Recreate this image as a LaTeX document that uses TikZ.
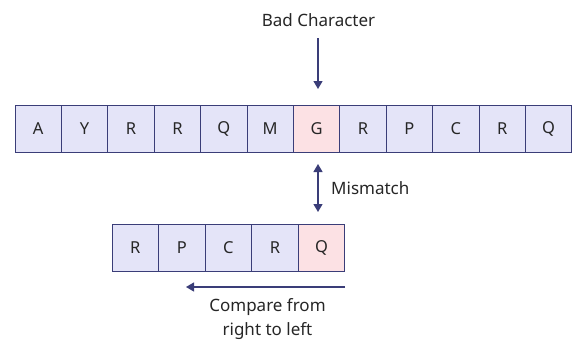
\documentclass[tikz,border=0pt]{standalone}
\usepackage{fontspec}
\setmainfont{Noto Sans}
\usetikzlibrary{arrows.meta}
\definecolor{navy}{HTML}{3A3D78}
\definecolor{cellfill}{HTML}{E4E4F8}
\definecolor{hitfill}{HTML}{FCE1E4}
\definecolor{ink}{HTML}{262626}
\tikzset{
  cell/.style={draw=navy, line width=1pt, fill=cellfill, minimum width=46.4pt,
    minimum height=47pt, inner sep=0pt, text=ink, font=\fontsize{16.5}{18}\selectfont},
  hit/.style={cell, fill=hitfill},
  lbl/.style={text=ink, font=\fontsize{17}{24}\selectfont, inner sep=0pt},
  pointer/.style={draw=navy, line width=1.3pt, -{Triangle[length=8pt,width=9pt]}},
  twoway/.style={draw=navy, line width=1.3pt, {Triangle[length=8pt,width=9pt]}-{Triangle[length=8pt,width=9pt]}}
}
\begin{document}
\begin{tikzpicture}[x=1pt,y=-1pt]
\useasboundingbox (0,0) rectangle (574,340);
% text row
\foreach \ch [count=\i from 0] in {A,Y,R,R,Q,M,G,R,P,C,R,Q}{
  \ifnum\i=6
    \node[hit] (t\i) at (38.2+\i*46.4,128.5) {\ch};
  \else
    \node[cell] (t\i) at (38.2+\i*46.4,128.5) {\ch};
  \fi
}
% pattern row
\foreach \ch [count=\i from 0] in {R,P,C,R,Q}{
  \ifnum\i=4
    \node[hit] (p\i) at (135.2+\i*46.6,248) {\ch};
  \else
    \node[cell] (p\i) at (135.2+\i*46.6,248) {\ch};
  \fi
}
% bad character marker
\node[lbl] (bad) at (318.5,20) {Bad Character};
\coordinate (badtop) at (318,38);
\coordinate (badtip) at (318,89);
\draw[pointer] (badtop) -- (badtip);
% mismatch
\coordinate (mmtop) at (318,164);
\coordinate (mmbot) at (318,212);
\draw[twoway] (mmtop) -- (mmbot);
\node[lbl, anchor=west] (mm) at (331,188) {Mismatch};
% direction of comparison
\coordinate (cmpstart) at (345,287);
\coordinate (cmpend) at (186,287);
\draw[pointer] (cmpstart) -- (cmpend);
\node[lbl, align=center] (cmp) at (267.5,319) {Compare from\\right to left};
\end{tikzpicture}
\end{document}
